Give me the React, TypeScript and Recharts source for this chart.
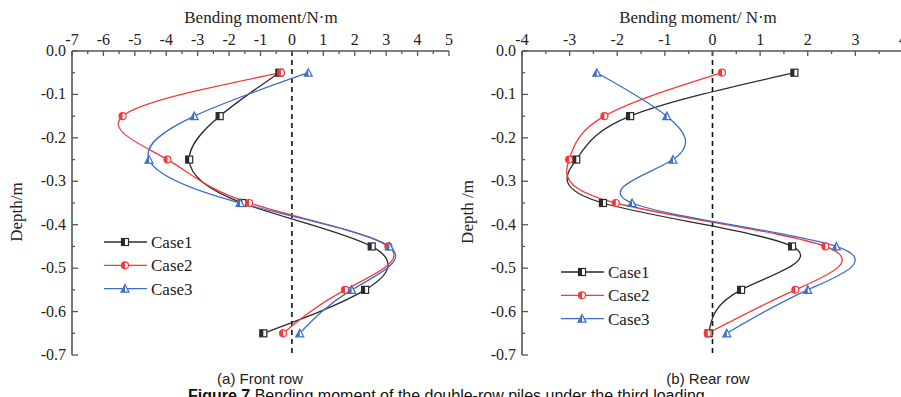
import React from 'react';
import { LineChart, Line, XAxis, YAxis, ReferenceLine } from 'recharts';

// depth of each gauge (m) and the tick labels of both axes
const depths = [-0.05, -0.15, -0.25, -0.35, -0.45, -0.55, -0.65];
const depthTicks = [0, -0.1, -0.2, -0.3, -0.4, -0.5, -0.6, -0.7];

// (a) front row, bending moment (N·m)
const frontTicks = [-7, -6, -5, -4, -3, -2, -1, 0, 1, 2, 3, 4, 5];
const frontCase1 = [-0.4, -2.3, -3.27, -1.58, 2.54, 2.33, -0.91];
const frontCase2 = [-0.35, -5.39, -3.96, -1.36, 3.07, 1.69, -0.28];
const frontCase3 = [0.52, -3.11, -4.55, -1.65, 3.1, 1.9, 0.25];

// (b) rear row
const rearTicks = [-4, -3, -2, -1, 0, 1, 2, 3, 4];
const rearCase1 = [1.72, -1.73, -2.86, -2.3, 1.67, 0.6, -0.08];
const rearCase2 = [0.2, -2.27, -3.01, -2.03, 2.37, 1.74, -0.1];
const rearCase3 = [-2.43, -0.96, -0.83, -1.69, 2.6, 2.0, 0.3];

const SERIES = [
  { key: 'c1', name: 'Case1', color: '#2b2b2b', shape: 'square' },
  { key: 'c2', name: 'Case2', color: '#f43a3a', shape: 'circle' },
  { key: 'c3', name: 'Case3', color: '#3b6fc6', shape: 'triangle' },
];

const SERIF = '"Liberation Serif", "Times New Roman", serif';
const SANS = '"Liberation Sans", Arial, sans-serif';
const AXIS = '#555';
const PLOT_TOP = 51;
const PLOT_BOTTOM = 355;
const YAXIS_W = 72;

const serifStyle = { fontFamily: SERIF };

function withMinors(majors: number[]) {
  const out: number[] = [];
  majors.forEach((v, i) => {
    out.push(v);
    if (i < majors.length - 1) out.push((v + majors[i + 1]) / 2);
  });
  return out;
}

const isMajor = (v: number, majors: number[]) => majors.some(m => Math.abs(m - v) < 1e-6);

function buildRows(c1: number[], c2: number[], c3: number[]) {
  return depths.map((d, i) => ({ depth: d, c1: c1[i], c2: c2[i], c3: c3[i] }));
}

function Marker({ cx, cy, shape, color }: { cx: number; cy: number; shape: string; color: string }) {
  const s = 3.5;
  if (shape === 'square') {
    return (
      <g>
        <rect x={cx - s} y={cy - s} width={2 * s} height={2 * s} fill="#fff" stroke={color} strokeWidth={1.2} />
        <rect x={cx - s} y={cy - s} width={s} height={2 * s} fill={color} />
      </g>
    );
  }
  if (shape === 'circle') {
    return (
      <g>
        <circle cx={cx} cy={cy} r={s} fill="#fff" stroke={color} strokeWidth={1.2} />
        <path d={`M${cx},${cy - s} A${s},${s} 0 0 0 ${cx},${cy + s} Z`} fill={color} />
      </g>
    );
  }
  return (
    <g>
      <polygon
        points={`${cx},${cy - s - 0.5} ${cx + s + 0.5},${cy + s} ${cx - s - 0.5},${cy + s}`}
        fill="#fff"
        stroke={color}
        strokeWidth={1.2}
      />
      <polygon points={`${cx},${cy - s} ${cx},${cy + s} ${cx - s},${cy + s}`} fill={color} />
    </g>
  );
}

function Panel({
  left,
  width,
  rightMargin,
  ticks,
  c1,
  c2,
  c3,
}: {
  left: number;
  width: number;
  rightMargin: number;
  ticks: number[];
  c1: number[];
  c2: number[];
  c3: number[];
}) {
  const rows = buildRows(c1, c2, c3);
  const xTicks = withMinors(ticks);
  const yTicks = withMinors(depthTicks);
  const domain: [number, number] = [ticks[0], ticks[ticks.length - 1]];

  const topTick = (p: any) => {
    const major = isMajor(p.payload.value, ticks);
    return (
      <g>
        <line x1={p.x} x2={p.x} y1={PLOT_TOP} y2={PLOT_TOP + (major ? 5 : 3)} stroke={AXIS} strokeWidth={1.3} />
        {major && (
          <text x={p.x} y={45} textAnchor="middle" fontSize={16} style={serifStyle} fill="#222">
            {p.payload.value}
          </text>
        )}
      </g>
    );
  };

  const bottomTick = (p: any) => {
    const major = isMajor(p.payload.value, ticks);
    return (
      <line x1={p.x} x2={p.x} y1={PLOT_BOTTOM} y2={PLOT_BOTTOM - (major ? 5 : 3)} stroke={AXIS} strokeWidth={1.3} />
    );
  };

  const leftTick = (p: any) => {
    const major = isMajor(p.payload.value, depthTicks);
    return (
      <g>
        <line x1={YAXIS_W} x2={YAXIS_W + (major ? 6 : 3)} y1={p.y} y2={p.y} stroke={AXIS} strokeWidth={1.3} />
        {major && (
          <text x={66} y={p.y} dy={5} textAnchor="end" fontSize={16} style={serifStyle} fill="#222">
            {p.payload.value.toFixed(1)}
          </text>
        )}
      </g>
    );
  };

  return (
    <div style={{ position: 'absolute', left, top: 0 }}>
      <LineChart
        width={width}
        height={397}
        data={rows}
        layout="vertical"
        margin={{ top: 0, right: rightMargin, bottom: 397 - PLOT_BOTTOM, left: 0 }}
      >
        <XAxis
          xAxisId="top"
          orientation="top"
          type="number"
          domain={domain}
          allowDataOverflow
          ticks={xTicks}
          interval={0}
          height={PLOT_TOP}
          tickLine={false}
          tick={topTick}
          axisLine={{ stroke: AXIS, strokeWidth: 1.6 }}
        />
        <XAxis
          xAxisId="bottom"
          orientation="bottom"
          type="number"
          domain={domain}
          allowDataOverflow
          ticks={xTicks}
          interval={0}
          height={0}
          tickLine={false}
          tick={bottomTick}
          axisLine={{ stroke: AXIS, strokeWidth: 1.6 }}
        />
        <YAxis
          yAxisId="left"
          type="number"
          dataKey="depth"
          domain={[-0.7, 0]}
          reversed
          allowDataOverflow
          ticks={yTicks}
          interval={0}
          width={YAXIS_W}
          tickLine={false}
          tick={leftTick}
          axisLine={{ stroke: AXIS, strokeWidth: 1.6 }}
        />
        <YAxis
          yAxisId="right"
          orientation="right"
          type="number"
          domain={[-0.7, 0]}
          reversed
          width={0}
          tick={false}
          tickLine={false}
          axisLine={{ stroke: AXIS, strokeWidth: 1.6 }}
        />
        <ReferenceLine
          x={0}
          xAxisId="top"
          yAxisId="left"
          stroke="#111"
          strokeWidth={1.6}
          strokeDasharray="5 4"
        />
        {SERIES.map(s => (
          <Line
            key={s.key}
            xAxisId="top"
            yAxisId="left"
            dataKey={s.key}
            type="natural"
            stroke={s.color}
            strokeWidth={1.3}
            isAnimationActive={false}
            dot={(p: any) => (
              <Marker key={`${s.key}-${p.index}`} cx={p.cx} cy={p.cy} shape={s.shape} color={s.color} />
            )}
          />
        ))}
      </LineChart>
    </div>
  );
}

function Legend({ x, y }: { x: number; y: number }) {
  return (
    <g>
      {SERIES.map((s, i) => {
        const cy = y + i * 23.3;
        return (
          <g key={s.key}>
            <line x1={x} x2={x + 43} y1={cy} y2={cy} stroke={s.color} strokeWidth={1.3} />
            <Marker cx={x + 21} cy={cy} shape={s.shape} color={s.color} />
            <text x={x + 47} y={cy} dy={6} fontSize={17} style={serifStyle} fill="#222">
              {s.name}
            </text>
          </g>
        );
      })}
    </g>
  );
}

export default function App() {
  return (
    <div style={{ position: 'fixed', left: 0, top: 0, width: 901, height: 397, overflow: 'hidden', background: '#fff' }}>
      <Panel left={0} width={460} rightMargin={11} ticks={frontTicks} c1={frontCase1} c2={frontCase2} c3={frontCase3} />
      <Panel left={450} width={455} rightMargin={2} ticks={rearTicks} c1={rearCase1} c2={rearCase2} c3={rearCase3} />
      <svg width={901} height={397} style={{ position: 'absolute', left: 0, top: 0, pointerEvents: 'none' }}>
        <text x={261} y={23} textAnchor="middle" fontSize={17} style={serifStyle} fill="#222">
          Bending moment/N·m
        </text>
        <text x={698} y={23} textAnchor="middle" fontSize={17} style={serifStyle} fill="#222">
          Bending moment/ N·m
        </text>
        <text x={0} y={0} transform="translate(22 212) rotate(-90)" textAnchor="middle" fontSize={17} style={serifStyle} fill="#222">
          Depth/m
        </text>
        <text x={0} y={0} transform="translate(473 212) rotate(-90)" textAnchor="middle" fontSize={17} style={serifStyle} fill="#222">
          Depth /m
        </text>
        <Legend x={104} y={242} />
        <Legend x={561} y={272} />
        <text x={260} y={384} textAnchor="middle" fontSize={15} style={{ fontFamily: SANS }} fill="#222">
          (a) Front row
        </text>
        <text x={708} y={384} textAnchor="middle" fontSize={15} style={{ fontFamily: SANS }} fill="#222">
          (b) Rear row
        </text>
        <text x={188} y={401} fontSize={16} style={{ fontFamily: SANS }} fill="#111">
          <tspan fontWeight="bold">Figure 7</tspan> Bending moment of the double-row piles under the third loading
        </text>
      </svg>
    </div>
  );
}
